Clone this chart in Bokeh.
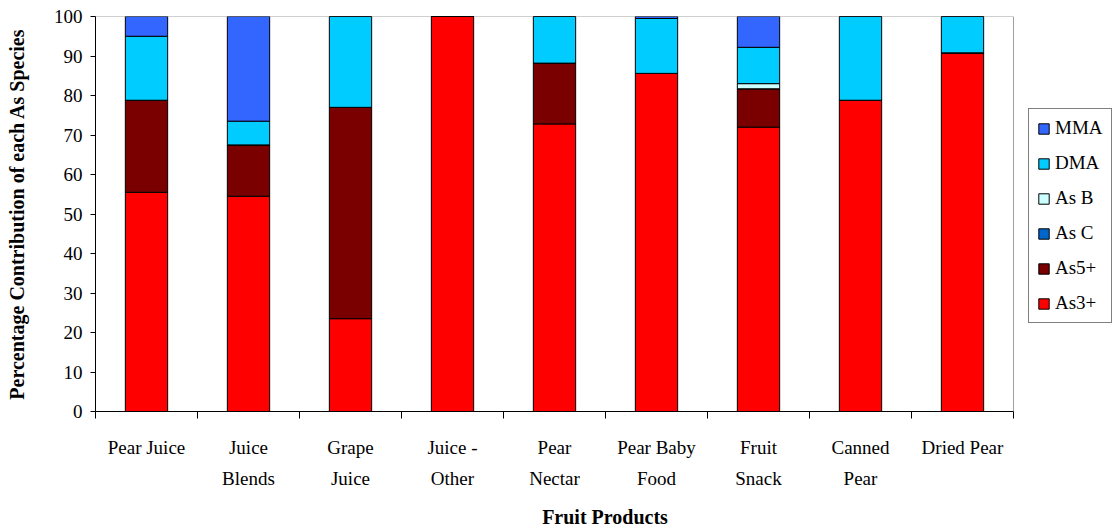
from bokeh.plotting import figure
from bokeh.models import (ColumnDataSource, Range1d, FixedTicker, Legend, LegendItem)
from bokeh.embed import file_html
from bokeh.resources import INLINE

# Fruit product categories (two-line tick labels)
products = ["Pear Juice", "Juice\nBlends", "Grape\nJuice", "Juice -\nOther", "Pear\nNectar",
            "Pear Baby\nFood", "Fruit\nSnack", "Canned\nPear", "Dried Pear"]

# Percentage contribution of each arsenic species per product
as3 = [55.5, 54.5, 23.5, 100.0, 72.8, 85.6, 72.0, 78.8, 90.8]
as5 = [23.3, 13.0, 53.5, 0.0, 15.4, 0.0, 9.7, 0.0, 0.0]
asc = [0.0, 0.0, 0.0, 0.0, 0.0, 0.0, 0.0, 0.0, 0.0]
asb = [0.0, 0.0, 0.0, 0.0, 0.0, 0.0, 1.3, 0.0, 0.0]
dma = [16.2, 6.0, 23.0, 0.0, 11.8, 13.9, 9.2, 21.2, 9.2]
mma = [5.0, 26.5, 0.0, 0.0, 0.0, 0.5, 7.8, 0.0, 0.0]

species = ["As3+", "As5+", "As C", "As B", "DMA", "MMA"]
colors = ["#FF0000", "#7A0000", "#0066CC", "#CCFFFF", "#00CCFF", "#3366FF"]

n = len(products)
xpos = [i + 0.5 for i in range(n)]
source = ColumnDataSource(dict(x=xpos, **dict(zip(species, [as3, as5, asc, asb, dma, mma]))))

FONT = "Liberation Serif"
W, H = 1114, 531
LEFT, TOP, BOTTOM = 95, 16, 118
PLOT_AREA_W = 918  # width of the bar area; the rest of the frame holds the legend

p = figure(width=W, height=H, output_backend="svg", toolbar_location=None,
           x_range=Range1d(0, n * (W - LEFT) / PLOT_AREA_W), y_range=Range1d(0, 100),
           min_border_left=LEFT, min_border_right=0, min_border_top=TOP,
           min_border_bottom=BOTTOM)
p.background_fill_color = "white"
p.border_fill_color = "white"
p.outline_line_color = None
p.xgrid.visible = False
p.ygrid.visible = False

# grey plot-area border on the top and right sides
p.line(x=[0, n, n], y=[100, 100, 0], line_color="#A0A0A0", line_width=1)

renderers = p.vbar_stack(species, x="x", width=0.415, source=source,
                         fill_color=colors, line_color="black", line_width=1)

# x axis: labels at category centres, tick marks at category boundaries
p.xaxis.bounds = (0, n)
p.xaxis.ticker = FixedTicker(ticks=xpos, minor_ticks=list(range(n + 1)))
p.xaxis.major_label_overrides = {x: lab for x, lab in zip(xpos, products)}
p.xaxis.major_tick_out = 0
p.xaxis.major_tick_in = 0
p.xaxis.minor_tick_out = 7
p.xaxis.minor_tick_in = 0
p.xaxis.minor_tick_line_color = "black"
p.xaxis.major_label_standoff = 18
p.xaxis.major_label_text_line_height = 1.5
p.xaxis.axis_label = "Fruit Products"
p.xaxis.axis_label_standoff = 14

p.yaxis.ticker = FixedTicker(ticks=list(range(0, 101, 10)))
p.yaxis.major_tick_out = 5
p.yaxis.major_tick_in = 0
p.yaxis.minor_tick_out = 0
p.yaxis.minor_tick_in = 0
p.yaxis.major_label_standoff = 8
p.yaxis.axis_label = "Percentage Contribution of each As Species"
p.yaxis.axis_label_standoff = 23

for ax in (p.xaxis, p.yaxis):
    ax.axis_line_color = "black"
    ax.major_tick_line_color = "black"
    ax.major_label_text_font = FONT
    ax.major_label_text_font_size = "19px"
    ax.major_label_text_color = "black"
    ax.axis_label_text_font = FONT
    ax.axis_label_text_font_size = "20px"
    ax.axis_label_text_font_style = "bold"
    ax.axis_label_text_color = "black"

items = [LegendItem(label=s, renderers=[r]) for s, r in zip(species, renderers)][::-1]
legend = Legend(items=items, location=(933, 88), orientation="vertical",
                label_text_font=FONT, label_text_font_size="19px", label_text_color="black",
                glyph_width=13, glyph_height=13, label_height=20, spacing=13,
                label_standoff=5, padding=8, margin=0,
                border_line_color="black", border_line_width=1,
                background_fill_color="white", background_fill_alpha=1.0)
p.add_layout(legend, "center")

open("out.html", "w").write(file_html(p, INLINE))
